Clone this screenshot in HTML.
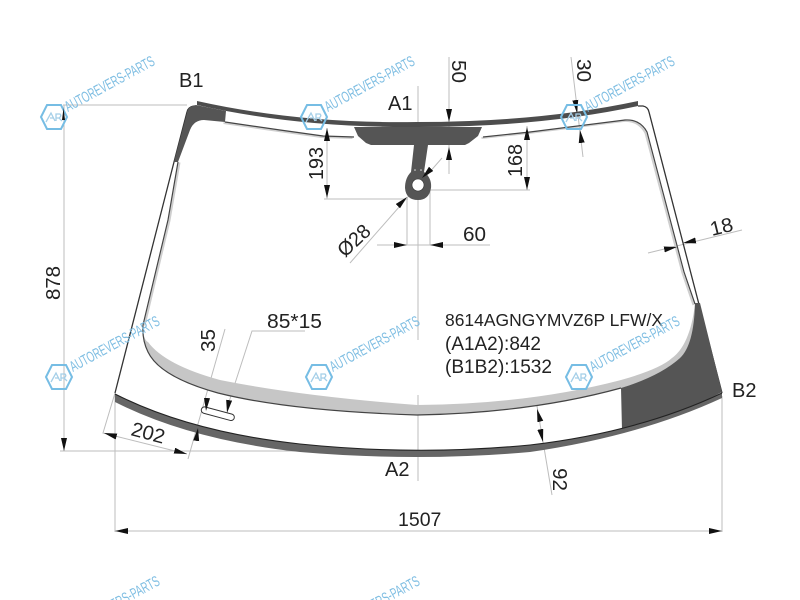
<!DOCTYPE html>
<html><head><meta charset="utf-8"><style>
html,body{margin:0;padding:0;background:#fff;width:800px;height:600px;overflow:hidden}
svg{display:block;filter:blur(.35px)}
text{font-family:"Liberation Sans",sans-serif;fill:#222}
.d{stroke:#bdbdbd;stroke-width:1;fill:none}
.a{stroke:none;marker-end:url(#m)}
.wm{fill:#7dbde2;font-size:15px}
.hx{fill:none;stroke:#76bde4;stroke-width:2}
.ar{fill:none;stroke:#a5cfe8;stroke-width:1.3}
</style></head><body>
<svg width="800" height="600" viewBox="0 0 800 600" xmlns="http://www.w3.org/2000/svg">
<defs>
<marker id="m" markerUnits="userSpaceOnUse" markerWidth="14" markerHeight="8" refX="13" refY="3" orient="auto"><path d="M0,0 L13,3 L0,6 Z" fill="#111"/></marker>
</defs>

<!-- dimension lines -->
<path class="d" d="M63,105H187M64,105V451M60,451H417M115,393V532M722,396V532M115,531H722"/>
<path class="d" d="M115,393L103,433L187,454M225,329L188,459M305,331H252L228,405"/>
<path class="d" d="M418,86V340M418,395V481M449,57V174M327,128V199M324,199H408M527,126V190M430,190H530"/>
<path class="d" d="M350,263L442,158M407,198V245M430,190V245M377,245H490M418,245V270"/>
<path class="d" d="M571,57L583,157M648,253L742,230M536,400L552,495"/>

<!-- glass outer edges -->
<path d="M115,393L174,162L187,112Q188,107 194,106" fill="none" stroke="#333" stroke-width="1.3"/>
<path d="M638,106L643,106Q648,107 649,112L722,393" fill="none" stroke="#333" stroke-width="1.3"/>

<!-- top strip -->
<path d="M197,101Q300,124 417,122Q540,122 638,101L638,106Q540,127 417,127Q300,128 197,105Z" fill="#4d4d4d"/>

<!-- top left dark corner -->
<path d="M187,113Q188,106 196,105L226,111L225,122L204,120Q194,120 190,130L178,162L174,162Z" fill="#555"/>

<!-- inner line -->
<path d="M225,122L280,130L323,136L354,137M483,137L530,132L625,120Q640,119 647,132L684,272L695,304" fill="none" stroke="#cfcfcf" stroke-width="2" transform="translate(-1.5,1)"/>
<path d="M225,122L280,130L323,136L354,137M483,137L530,132L625,120Q640,119 647,132L684,272L695,304" fill="none" stroke="#444" stroke-width="1.2"/>
<path d="M178,162L168,220L143,325" fill="none" stroke="#cfcfcf" stroke-width="2" transform="translate(1.5,.5)"/>
<path d="M178,162L168,220L143,325" fill="none" stroke="#444" stroke-width="1.2"/>

<!-- centre dark band & bracket -->
<path d="M354,127L482,127L478,136L469,143L465,145L428,145L424,172Q432,178 431,188Q429,200 418,200Q406,200 405,188Q405,178 411,172L414,145L371,145L366,143L358,136Z" fill="#555"/>
<circle cx="418" cy="185" r="6" fill="#fff" stroke="#333" stroke-width=".6"/>
<circle cx="415" cy="170" r=".8" fill="#ddd"/><circle cx="421" cy="170" r=".8" fill="#ddd"/>

<!-- inner lower grey band -->
<path d="M143,325Q143,340 148,342Q165,365 220,380Q300,396 417,405Q530,404 621,380Q660,369 672,358Q690,345 695,304L699,310Q694,350 680,358Q660,376 621,388Q530,412 417,415Q290,411 218,393Q160,377 148,352Q142,340 143,325Z" fill="#c6c6c6"/>
<path d="M143,325Q142,340 148,352Q160,377 218,393Q290,411 417,415Q530,413 621,388" fill="none" stroke="#444" stroke-width="1.2"/>

<!-- right lower dark region -->
<path d="M621,388Q660,376 680,358Q694,345 695,303L700,303L722,392Q690,410 622,430Z" fill="#555"/>

<!-- bottom band -->
<path d="M115,394Q190,432 300,444Q417,456 530,445Q640,432 722,393L722,398Q640,436 530,452Q417,462 300,452Q190,440 115,402Z" fill="#666"/>
<path d="M115,394Q190,432 300,444Q417,456 530,445Q640,432 722,393" fill="none" stroke="#222" stroke-width="1.1"/>

<!-- slot -->
<rect x="201" y="410.5" width="34" height="6.5" rx="3.2" fill="#fff" stroke="#333" stroke-width="1" transform="rotate(15 218 413)"/>

<!-- arrows -->
<line class="a" x1="449" y1="105" x2="449" y2="122"/>
<line class="a" x1="449" y1="165" x2="449" y2="147"/>
<line class="a" x1="327" y1="145" x2="327" y2="128"/>
<line class="a" x1="327" y1="180" x2="327" y2="198"/>
<line class="a" x1="527" y1="143" x2="527" y2="127"/>
<line class="a" x1="527" y1="174" x2="527" y2="190"/>
<line class="a" x1="432" y1="168" x2="422" y2="178"/>
<line class="a" x1="396" y1="208" x2="407" y2="197"/>
<line class="a" x1="392" y1="245" x2="407" y2="245"/>
<line class="a" x1="445" y1="245" x2="430" y2="245"/>
<line class="a" x1="575" y1="98" x2="577" y2="113"/>
<line class="a" x1="582" y1="145" x2="580" y2="130"/>
<line class="a" x1="661" y1="250" x2="677" y2="247"/>
<line class="a" x1="698" y1="240" x2="683" y2="243"/>
<line class="a" x1="541" y1="424" x2="537" y2="409"/>
<line class="a" x1="540" y1="428" x2="543" y2="442"/>
<line class="a" x1="64" y1="436" x2="64" y2="451"/>
<line class="a" x1="118" y1="437" x2="104" y2="433"/>
<line class="a" x1="172" y1="450" x2="187" y2="454"/>
<line class="a" x1="207" y1="398" x2="206" y2="411"/>
<line class="a" x1="229" y1="401" x2="227" y2="413"/>
<line class="a" x1="196" y1="442" x2="198" y2="428"/>
<line class="a" x1="130" y1="531" x2="115" y2="531"/>
<line class="a" x1="707" y1="531" x2="722" y2="531"/>

<!-- labels -->
<text x="179" y="87" font-size="20">B1</text>
<text x="388" y="110" font-size="20">A1</text>
<text x="385" y="476" font-size="20">A2</text>
<text x="732" y="397" font-size="20">B2</text>
<text x="398" y="526" font-size="19.5">1507</text>
<text x="267" y="328" font-size="20" textLength="55" lengthAdjust="spacingAndGlyphs">85*15</text>
<text x="463" y="241" font-size="20" textLength="23" lengthAdjust="spacingAndGlyphs">60</text>
<text x="445" y="326" font-size="17.4" textLength="218" lengthAdjust="spacingAndGlyphs">8614AGNGYMVZ6P LFW/X</text>
<text x="445" y="350" font-size="19" textLength="96" lengthAdjust="spacingAndGlyphs">(A1A2):842</text>
<text x="445" y="373" font-size="19" textLength="107" lengthAdjust="spacingAndGlyphs">(B1B2):1532</text>
<text transform="translate(60,300) rotate(-90)" font-size="20" textLength="34" lengthAdjust="spacingAndGlyphs">878</text>
<text transform="translate(323,180) rotate(-90)" font-size="20" textLength="33" lengthAdjust="spacingAndGlyphs">193</text>
<text transform="translate(522,177) rotate(-90)" font-size="20" textLength="33" lengthAdjust="spacingAndGlyphs">168</text>
<text transform="translate(215,352) rotate(-90)" font-size="20" textLength="23" lengthAdjust="spacingAndGlyphs">35</text>
<text transform="translate(452,60) rotate(90)" font-size="20" textLength="23" lengthAdjust="spacingAndGlyphs">50</text>
<text transform="translate(577,59) rotate(90)" font-size="20" textLength="23" lengthAdjust="spacingAndGlyphs">30</text>
<text transform="translate(553,468) rotate(90)" font-size="20" textLength="23" lengthAdjust="spacingAndGlyphs">92</text>
<text transform="translate(712,236) rotate(-14)" font-size="20" textLength="23" lengthAdjust="spacingAndGlyphs">18</text>
<text transform="translate(130,435) rotate(15)" font-size="20" textLength="34" lengthAdjust="spacingAndGlyphs">202</text>
<text transform="translate(345,258) rotate(-43)" font-size="20" textLength="37" lengthAdjust="spacingAndGlyphs">Ø28</text>

<!-- watermarks -->
<g transform="translate(54,117)">
<path class="hx" d="M-13,0L-7,-12H7L13,0L7,12H-7Z"/>
<path class="ar" d="M-8,5L-3,-4L1,4M-4,1H0M2,4V-3H6Q8,-1 5,1H2M5,1L8,4"/>
<text class="wm" transform="translate(14,-5) rotate(-28.5)" textLength="100" lengthAdjust="spacingAndGlyphs">AUTOREVERS-PARTS</text>
</g>
<path d="M62,120L63.5,108L65,120Z" fill="#111"/>
<g transform="translate(314,117)">
<path class="hx" d="M-13,0L-7,-12H7L13,0L7,12H-7Z"/>
<path class="ar" d="M-8,5L-3,-4L1,4M-4,1H0M2,4V-3H6Q8,-1 5,1H2M5,1L8,4"/>
<text class="wm" transform="translate(14,-5) rotate(-28.5)" textLength="100" lengthAdjust="spacingAndGlyphs">AUTOREVERS-PARTS</text>
</g>
<g transform="translate(574,117)">
<path class="hx" d="M-13,0L-7,-12H7L13,0L7,12H-7Z"/>
<path class="ar" d="M-8,5L-3,-4L1,4M-4,1H0M2,4V-3H6Q8,-1 5,1H2M5,1L8,4"/>
<text class="wm" transform="translate(14,-5) rotate(-28.5)" textLength="100" lengthAdjust="spacingAndGlyphs">AUTOREVERS-PARTS</text>
</g>
<g transform="translate(59,377)">
<path class="hx" d="M-13,0L-7,-12H7L13,0L7,12H-7Z"/>
<path class="ar" d="M-8,5L-3,-4L1,4M-4,1H0M2,4V-3H6Q8,-1 5,1H2M5,1L8,4"/>
<text class="wm" transform="translate(14,-5) rotate(-28.5)" textLength="100" lengthAdjust="spacingAndGlyphs">AUTOREVERS-PARTS</text>
</g>
<g transform="translate(319,377)">
<path class="hx" d="M-13,0L-7,-12H7L13,0L7,12H-7Z"/>
<path class="ar" d="M-8,5L-3,-4L1,4M-4,1H0M2,4V-3H6Q8,-1 5,1H2M5,1L8,4"/>
<text class="wm" transform="translate(14,-5) rotate(-28.5)" textLength="100" lengthAdjust="spacingAndGlyphs">AUTOREVERS-PARTS</text>
</g>
<g transform="translate(579,377)">
<path class="hx" d="M-13,0L-7,-12H7L13,0L7,12H-7Z"/>
<path class="ar" d="M-8,5L-3,-4L1,4M-4,1H0M2,4V-3H6Q8,-1 5,1H2M5,1L8,4"/>
<text class="wm" transform="translate(14,-5) rotate(-28.5)" textLength="100" lengthAdjust="spacingAndGlyphs">AUTOREVERS-PARTS</text>
</g>
<g transform="translate(59,637)"><text class="wm" transform="translate(14,-5) rotate(-28.5)" textLength="100" lengthAdjust="spacingAndGlyphs">AUTOREVERS-PARTS</text></g>
<g transform="translate(319,637)"><text class="wm" transform="translate(14,-5) rotate(-28.5)" textLength="100" lengthAdjust="spacingAndGlyphs">AUTOREVERS-PARTS</text></g>
</svg>
</body></html>
